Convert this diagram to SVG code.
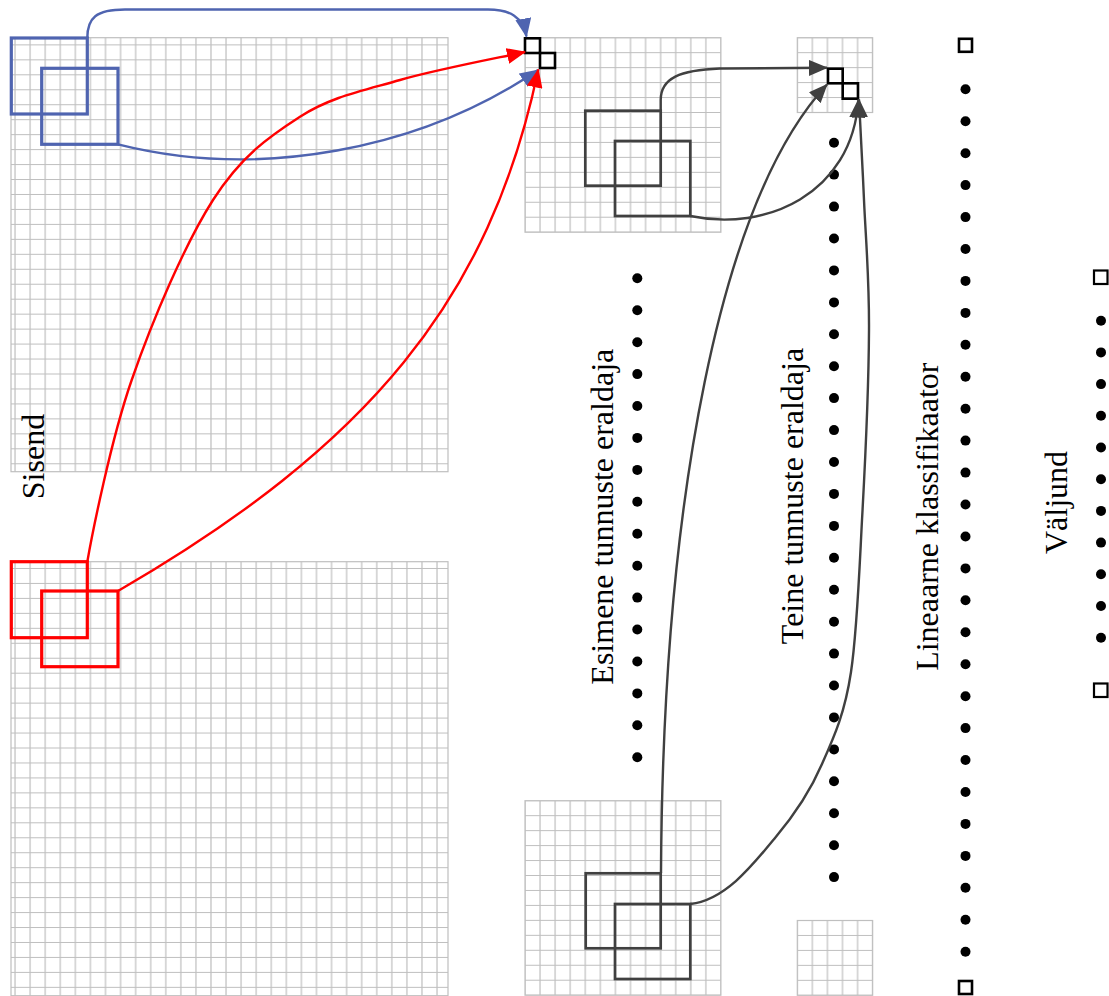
<svg xmlns="http://www.w3.org/2000/svg" width="1109" height="996" viewBox="0 0 1109 996">
<style>
.grid{fill:url(#cell);stroke:#BFBFBF;stroke-width:1.2}
.bsq{fill:none;stroke:#4F64B0;stroke-width:3.2}
.rsq{fill:none;stroke:#FF0000;stroke-width:3.2}
.gsq{fill:none;stroke:#404040;stroke-width:2.7}
.ksq{fill:none;stroke:#000;stroke-width:2.6}
.osq{fill:none;stroke:#000;stroke-width:2.2}
.dot{fill:#000}
.lbl{font-family:"Liberation Serif","Times New Roman",serif;font-size:32px;fill:#000;text-anchor:middle}
.cb{fill:none;stroke:#4F64B0;stroke-width:2.4;marker-end:url(#ab)}
.cr{fill:none;stroke:#FF0000;stroke-width:2.4;marker-end:url(#ar)}
.cg{fill:none;stroke:#404040;stroke-width:2.4;marker-end:url(#ag)}
</style>
<defs>
<pattern id="cell" patternUnits="userSpaceOnUse" x="-7.535" y="-7.48" width="15.07" height="14.96">
<path d="M7.535,0 V14.96 M0,7.48 H15.07" stroke="#BFBFBF" stroke-width="1.2" fill="none"/>
</pattern>
<marker id="ab" markerUnits="userSpaceOnUse" viewBox="0 0 19 16" markerWidth="19" markerHeight="16" refX="18" refY="8" orient="auto"><path d="M0,0 L19,8 L0,16 z" fill="#4F64B0"/></marker>
<marker id="ar" markerUnits="userSpaceOnUse" viewBox="0 0 19 16" markerWidth="19" markerHeight="16" refX="18" refY="8" orient="auto"><path d="M0,0 L19,8 L0,16 z" fill="#FF0000"/></marker>
<marker id="ag" markerUnits="userSpaceOnUse" viewBox="0 0 19 16" markerWidth="19" markerHeight="16" refX="18" refY="8" orient="auto"><path d="M0,0 L19,8 L0,16 z" fill="#404040"/></marker>
</defs>
<rect width="1109" height="996" fill="#fff"/>

<g id="input-top">
<rect class="grid" x="11" y="37.7" width="437" height="434"/>
<rect class="bsq" x="11.3" y="38" width="76" height="76"/>
<rect class="bsq" x="41.7" y="68.3" width="76.3" height="76"/>
</g>
<g id="input-bottom">
<rect class="grid" x="11" y="561.7" width="437" height="434"/>
<rect class="rsq" x="11.3" y="561.7" width="76" height="76"/>
<rect class="rsq" x="41.7" y="591" width="76.3" height="75.7"/>
</g>
<g id="fmap1-top">
<g transform="translate(525,37.7)"><rect class="grid" width="195.9" height="194.5"/></g>
<rect class="gsq" x="585.3" y="110.7" width="75.4" height="75"/>
<rect class="gsq" x="615" y="141" width="75.3" height="75"/>
<rect class="ksq" x="525" y="38.3" width="15" height="14.7"/>
<rect class="ksq" x="540" y="53" width="15" height="15"/>
</g>
<g id="fmap1-bottom">
<g transform="translate(525,800.7)"><rect class="grid" width="195.9" height="194.5"/></g>
<rect class="gsq" x="585.7" y="873.3" width="75" height="75"/>
<rect class="gsq" x="615" y="904" width="75.3" height="75"/>
</g>
<g id="fmap2-top">
<g transform="translate(797.3,37.7)"><rect class="grid" width="75.35" height="74.8"/></g>
<rect class="ksq" x="828" y="68.7" width="14.7" height="14.6"/>
<rect class="ksq" x="842.7" y="83.3" width="15.3" height="15.4"/>
</g>
<g id="fmap2-bottom">
<g transform="translate(797.3,920.5)"><rect class="grid" width="75.35" height="74.8"/></g>
</g>

<g id="fmap1-dots">
<circle class="dot" cx="637.3" cy="278.3" r="5"/><circle class="dot" cx="637.3" cy="310.2" r="5"/><circle class="dot" cx="637.3" cy="342.2" r="5"/><circle class="dot" cx="637.3" cy="374.1" r="5"/>
<circle class="dot" cx="637.3" cy="406" r="5"/><circle class="dot" cx="637.3" cy="437.9" r="5"/><circle class="dot" cx="637.3" cy="469.9" r="5"/><circle class="dot" cx="637.3" cy="501.8" r="5"/>
<circle class="dot" cx="637.3" cy="533.7" r="5"/><circle class="dot" cx="637.3" cy="565.7" r="5"/><circle class="dot" cx="637.3" cy="597.6" r="5"/><circle class="dot" cx="637.3" cy="629.5" r="5"/>
<circle class="dot" cx="637.3" cy="661.5" r="5"/><circle class="dot" cx="637.3" cy="693.4" r="5"/><circle class="dot" cx="637.3" cy="725.3" r="5"/><circle class="dot" cx="637.3" cy="757.3" r="5"/>
</g>
<g id="fmap2-dots">
<circle class="dot" cx="834" cy="142.7" r="5"/><circle class="dot" cx="834" cy="174.6" r="5"/><circle class="dot" cx="834" cy="206.6" r="5"/><circle class="dot" cx="834" cy="238.5" r="5"/>
<circle class="dot" cx="834" cy="270.4" r="5"/><circle class="dot" cx="834" cy="302.4" r="5"/><circle class="dot" cx="834" cy="334.3" r="5"/><circle class="dot" cx="834" cy="366.2" r="5"/>
<circle class="dot" cx="834" cy="398.1" r="5"/><circle class="dot" cx="834" cy="430.1" r="5"/><circle class="dot" cx="834" cy="462" r="5"/><circle class="dot" cx="834" cy="493.9" r="5"/>
<circle class="dot" cx="834" cy="525.9" r="5"/><circle class="dot" cx="834" cy="557.8" r="5"/><circle class="dot" cx="834" cy="589.7" r="5"/><circle class="dot" cx="834" cy="621.7" r="5"/>
<circle class="dot" cx="834" cy="653.6" r="5"/><circle class="dot" cx="834" cy="685.5" r="5"/><circle class="dot" cx="834" cy="717.4" r="5"/><circle class="dot" cx="834" cy="749.4" r="5"/>
<circle class="dot" cx="834" cy="781.3" r="5"/><circle class="dot" cx="834" cy="813.2" r="5"/><circle class="dot" cx="834" cy="845.2" r="5"/><circle class="dot" cx="834" cy="877.1" r="5"/>
</g>
<g id="classifier">
<rect class="ksq" x="959" y="38.8" width="13" height="13"/>
<rect class="ksq" x="959" y="981" width="13" height="13"/>
<circle class="dot" cx="965.5" cy="89.3" r="5"/><circle class="dot" cx="965.5" cy="121.2" r="5"/><circle class="dot" cx="965.5" cy="153.2" r="5"/><circle class="dot" cx="965.5" cy="185.1" r="5"/>
<circle class="dot" cx="965.5" cy="217.1" r="5"/><circle class="dot" cx="965.5" cy="249" r="5"/><circle class="dot" cx="965.5" cy="280.9" r="5"/><circle class="dot" cx="965.5" cy="312.9" r="5"/>
<circle class="dot" cx="965.5" cy="344.8" r="5"/><circle class="dot" cx="965.5" cy="376.8" r="5"/><circle class="dot" cx="965.5" cy="408.7" r="5"/><circle class="dot" cx="965.5" cy="440.6" r="5"/>
<circle class="dot" cx="965.5" cy="472.6" r="5"/><circle class="dot" cx="965.5" cy="504.5" r="5"/><circle class="dot" cx="965.5" cy="536.5" r="5"/><circle class="dot" cx="965.5" cy="568.4" r="5"/>
<circle class="dot" cx="965.5" cy="600.3" r="5"/><circle class="dot" cx="965.5" cy="632.3" r="5"/><circle class="dot" cx="965.5" cy="664.2" r="5"/><circle class="dot" cx="965.5" cy="696.2" r="5"/>
<circle class="dot" cx="965.5" cy="728.1" r="5"/><circle class="dot" cx="965.5" cy="760" r="5"/><circle class="dot" cx="965.5" cy="792" r="5"/><circle class="dot" cx="965.5" cy="823.9" r="5"/>
<circle class="dot" cx="965.5" cy="855.9" r="5"/><circle class="dot" cx="965.5" cy="887.8" r="5"/><circle class="dot" cx="965.5" cy="919.7" r="5"/><circle class="dot" cx="965.5" cy="951.7" r="5"/>
</g>
<g id="output">
<rect class="osq" x="1094" y="270.5" width="13.5" height="13.5"/>
<rect class="osq" x="1094" y="683.5" width="13.5" height="13.5"/>
<circle class="dot" cx="1101" cy="320.7" r="5"/><circle class="dot" cx="1101" cy="352.4" r="5"/><circle class="dot" cx="1101" cy="384.1" r="5"/><circle class="dot" cx="1101" cy="415.8" r="5"/>
<circle class="dot" cx="1101" cy="447.5" r="5"/><circle class="dot" cx="1101" cy="479.2" r="5"/><circle class="dot" cx="1101" cy="510.9" r="5"/><circle class="dot" cx="1101" cy="542.6" r="5"/>
<circle class="dot" cx="1101" cy="574.3" r="5"/><circle class="dot" cx="1101" cy="606" r="5"/><circle class="dot" cx="1101" cy="637.7" r="5"/>
</g>

<g id="connectors">
<path class="cb" d="M87.3,38 C87.3,18 96,9.5 125,9.5 L488,9.5 C510,9.5 523,17 526.5,36.5"/>
<path class="cb" d="M118,144.3 C260,180 420,150 538,70"/>
<path class="cr" d="M87.3,561.7 C92,535 110.75,440.3 131.7,380 C152.65,319.7 184.95,243.9 213,200 C241.05,156.1 268.83,136.7 300,116.7 C331.17,96.7 362.5,90.8 400,80 C437.5,69.2 504,56.7 525,52"/>
<path class="cr" d="M118,591 C368,446 490,300 538.3,69.5"/>
<path class="cg" d="M660.7,110.7 L660.7,100 C660.7,78 680,70 720,68.5 L827,67.8"/>
<path class="cg" d="M690.3,216 C765,232 852,195 858.5,99.5"/>
<path class="cg" d="M661,873 C663,500 720,200 827,84.5"/>
<path class="cg" d="M690.3,904 C725,900 752,866 775,838 C796,813 810,792 822,764 C835,735 845,712 851,672 C857,632 859,578 862,520 C865.2,462.2 868.7,383.3 869,330 C869.3,276.7 865.7,238.5 864,200 C862.3,161.5 859.8,115.8 859,99.5"/>
</g>

<g id="labels">
<text class="lbl" transform="translate(44,456.5) rotate(-90)">Sisend</text>
<text class="lbl" transform="translate(613,516.7) rotate(-90)">Esimene tunnuste eraldaja</text>
<text class="lbl" transform="translate(803,496) rotate(-90)">Teine tunnuste eraldaja</text>
<text class="lbl" transform="translate(938.3,516.7) rotate(-90)">Lineaarne klassifikaator</text>
<text class="lbl" transform="translate(1066.7,502.5) rotate(-90)">Väljund</text>
</g>
</svg>
